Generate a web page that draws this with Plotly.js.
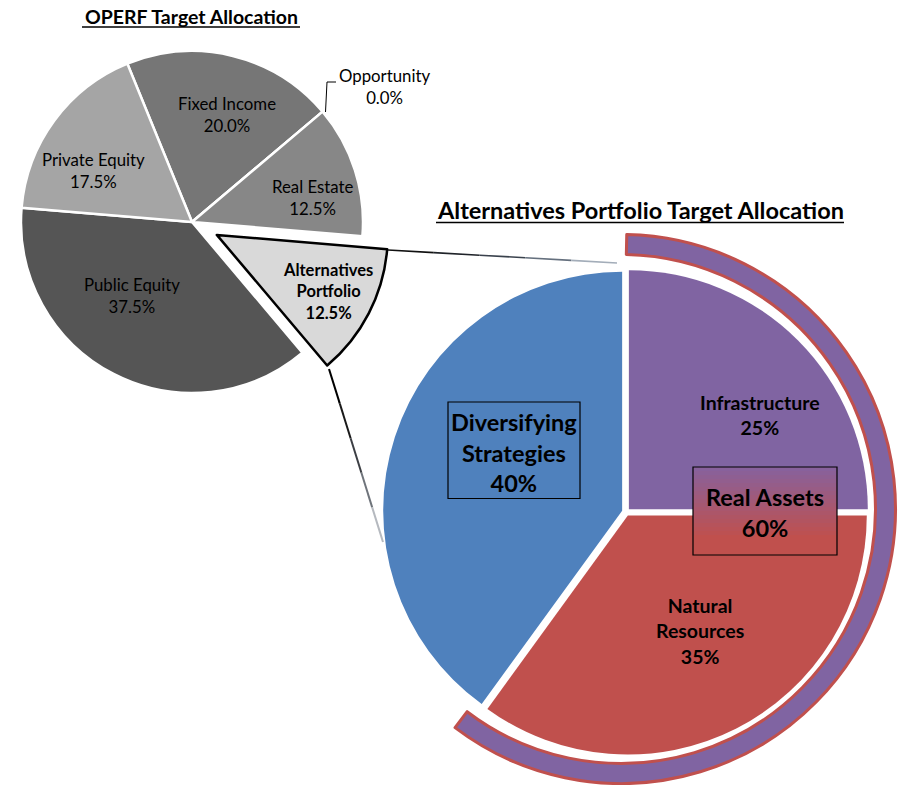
<!DOCTYPE html>
<html><head><meta charset="utf-8">
<script src="https://cdn.plot.ly/plotly-3.0.1.min.js"></script>
<style>html,body{margin:0;padding:0;background:#fff}</style>
</head><body><div id="chart" style="width:901px;height:785px"></div>
<script>
// ---- data ----
const operfLabels = ['Fixed Income', 'Opportunity', 'Real Estate', 'Alternatives Portfolio', 'Public Equity', 'Private Equity'];
const operfValues = [20.0, 0.0, 12.5, 12.5, 37.5, 17.5];
const altLabels = ['Infrastructure', 'Natural Resources', 'Diversifying Strategies'];
const altValues = [25, 35, 40];
const groupLabels = ['Real Assets', 'Diversifying Strategies'];
const groupValues = [60, 40];

// ---- styles ----
const operfColors = ['#767676', '#767676', '#878787', '#d9d9d9', '#555555', '#a5a5a5'];
const altColors = ['#8064a2', '#c0504d', '#4f81bd'];
const W = 901, H = 785;
const FONT = 'Lato, "Open Sans", sans-serif';
const fx = x => x / W, fy = y => 1 - y / H;
const dom = (cx, cy, h) => ({x: [fx(cx - h), fx(cx + h)], y: [fy(cy + h), fy(cy - h)]});
const TR = 'rgba(0,0,0,0)';
const altIdx = operfLabels.indexOf('Alternatives Portfolio');

const base = {type: 'pie', sort: false, direction: 'clockwise', textinfo: 'none', showlegend: false, hoverinfo: 'label+percent'};

const traces = [
  // Real Assets outer ring
  Object.assign({}, base, {
    labels: groupLabels, values: groupValues, rotation: 1.2, hole: 0.927,
    domain: dom(621, 509, 274.5),
    marker: {colors: ['#8064a2', TR], line: {color: ['#c0504d', TR], width: [3, 0]}}
  }),
  // Alternatives portfolio pie
  Object.assign({}, base, {
    labels: altLabels, values: altValues, rotation: 0, pull: altValues.map(() => 0.017),
    domain: dom(626, 512, 243),
    marker: {colors: altColors, line: {width: 0}}
  }),
  // OPERF pie (without the exploded slice)
  Object.assign({}, base, {
    labels: operfLabels, values: operfValues, rotation: -22.2,
    domain: dom(192, 222, 171),
    marker: {colors: operfColors.map((c, i) => i === altIdx ? TR : c),
             line: {color: '#ffffff', width: operfLabels.map((l, i) => i === altIdx ? 0 : 2.5)}}
  }),
  // OPERF exploded Alternatives slice
  Object.assign({}, base, {
    labels: operfLabels, values: operfValues, rotation: -22.2,
    domain: dom(216.8, 234.9, 171),
    marker: {colors: operfColors.map((c, i) => i === altIdx ? c : TR),
             line: {color: operfLabels.map((l, i) => i === altIdx ? '#000000' : TR),
                    width: operfLabels.map((l, i) => i === altIdx ? 2.5 : 0)}}
  })
];

// ---- decorations ----
const shapes = [];
function line(x0, y0, x1, y1, color, width) {
  shapes.push({type: 'line', xref: 'paper', yref: 'paper', x0: fx(x0), y0: fy(y0), x1: fx(x1), y1: fy(y1), line: {color, width}});
}
function fadeLine(x0, y0, x1, y1, colors, width) {
  const n = colors.length;
  for (let i = 0; i < n; i++) {
    const a = i / n, b = (i + 1) / n;
    line(x0 + (x1 - x0) * a, y0 + (y1 - y0) * a, x0 + (x1 - x0) * b, y0 + (y1 - y0) * b, colors[i], width);
  }
}
// title underlines
line(82, 27, 300, 27, '#000', 1.5);
line(436, 222.5, 844, 222.5, '#000', 1.5);
// connector lines
fadeLine(388, 250, 617, 263, ['#111111', '#1f2329', '#3a424d', '#65707e', '#a3adb9'], 1.6);
fadeLine(329, 369, 383, 542, ['#000000', '#1a1a1a', '#3c3f44', '#6f747b', '#b5b9bf'], 2);
// Opportunity leader
shapes.push({type: 'path', xref: 'paper', yref: 'paper', path: `M ${fx(325.5)} ${fy(112)} L ${fx(327)} ${fy(82)} L ${fx(336)} ${fy(82)}`, line: {color: '#000', width: 1}});
// Real Assets gradient box
const boxTop = 467, boxBot = 555, nb = 22;
const c0 = [0x86, 0x62, 0x9e], c1 = [0xc0, 0x50, 0x4d];
for (let i = 0; i < nb; i++) {
  const t = Math.min(1, (i + 0.5) / nb * 1.25);
  const c = c0.map((v, k) => Math.round(v + (c1[k] - v) * t));
  const y0 = boxTop + (boxBot - boxTop) * i / nb, y1 = boxTop + (boxBot - boxTop) * (i + 1) / nb + 0.5;
  shapes.push({type: 'rect', xref: 'paper', yref: 'paper', x0: fx(693), x1: fx(837), y0: fy(y0), y1: fy(Math.min(y1, boxBot)),
    fillcolor: `rgb(${c.join(',')})`, line: {width: 0}});
}
shapes.push({type: 'rect', xref: 'paper', yref: 'paper', x0: fx(693), x1: fx(837), y0: fy(boxTop), y1: fy(boxBot), line: {color: '#000', width: 1.2}});
// Diversifying box
shapes.push({type: 'rect', xref: 'paper', yref: 'paper', x0: fx(448), x1: fx(580), y0: fy(402), y1: fy(498.5), line: {color: '#000', width: 1.2}});

// ---- text ----
const annotations = [];
function ann(text, x, y, size, bold) {
  annotations.push({text: bold ? `<b>${text}</b>` : text, x: fx(x), y: fy(y), xref: 'paper', yref: 'paper',
    xanchor: 'center', yanchor: 'middle', showarrow: false, align: 'center',
    font: {family: FONT, size, color: '#000000'}});
}
const pct1 = v => v.toFixed(1) + '%';
const pct0 = v => v.toFixed(0) + '%';
const opPos = [[227, 114.5], [384, 87], [312, 197.5], [328, 292], [132, 295.5], [93, 170.5]];
operfLabels.forEach((l, i) => {
  const name = i === altIdx ? l.replace(' ', '<br>') : l;
  ann(`${name}<br>${pct1(operfValues[i])}`, opPos[i][0], opPos[i][1], i === altIdx ? 16.5 : 16.8, i === altIdx);
});
const altPos = [[760, 414.5], [700, 630.5], [514, 452]];
altLabels.forEach((l, i) => {
  const big = i === 2;
  ann(`${l.replace(' ', '<br>')}<br>${pct0(altValues[i])}`, altPos[i][0], altPos[i][1], big ? 23.5 : 19.5, true);
});
ann(`${groupLabels[0]}<br>${pct0(groupValues[0])}`, 765, 512, 23.5, true);
ann('OPERF Target Allocation', 191, 16.5, 19.5, true);
ann('Alternatives Portfolio Target Allocation', 640, 209.5, 23.5, true);

Plotly.newPlot('chart', traces, {
  width: W, height: H, margin: {l: 0, r: 0, t: 0, b: 0},
  paper_bgcolor: '#ffffff', plot_bgcolor: '#ffffff',
  shapes, annotations, showlegend: false
}, {displayModeBar: false, staticPlot: true});
</script>
</body></html>
